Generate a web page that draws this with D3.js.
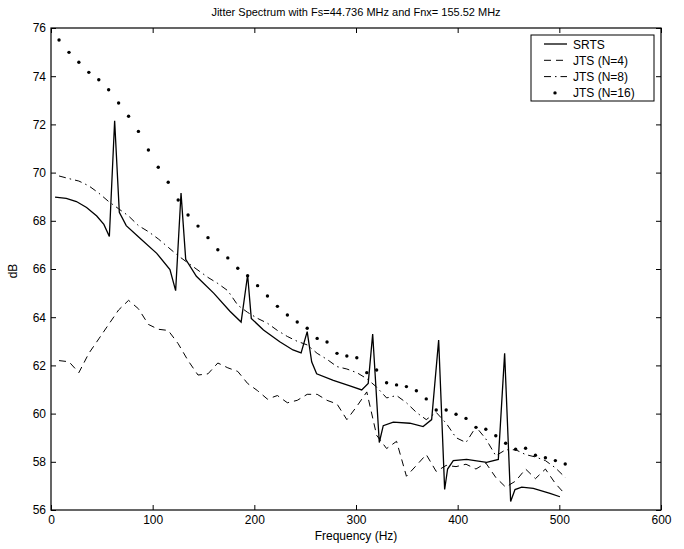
<!DOCTYPE html>
<html lang="en">
<head>
  <meta charset="UTF-8">
  <title>Jitter Spectrum</title>
  <style>
    body { margin: 0; background: #fff; }
    text { font-family: "Liberation Sans", Arial, sans-serif; fill: #000; }
    .axis path, .axis line { stroke: #000; }
  </style>
</head>
<body>
  <script src="https://d3js.org/d3.v7.min.js"></script>
  <script>
    // common frequency grid of the JTS curves (Hz)
    const jtsFreq = [7.9, 17.7, 27.4, 37.2, 47.0, 56.7, 66.5, 76.3, 86.0, 95.8,
      105.5, 115.3, 125.1, 134.8, 144.6, 154.4, 164.1, 173.9, 183.7, 193.4,
      203.2, 212.9, 222.7, 232.5, 242.2, 252.0, 261.8, 271.5, 281.3, 291.0,
      300.8, 310.6, 320.3, 330.1, 339.9, 349.6, 359.4, 369.1, 378.9, 388.7,
      398.4, 408.2, 418.0, 427.7, 437.5, 447.2, 457.0, 466.8, 476.5, 486.3,
      496.1, 505.8];

    const jts4 = [62.2, 62.15, 61.7, 62.5, 63.1, 63.7, 64.3, 64.7, 64.35, 63.7,
      63.5, 63.45, 62.9, 62.2, 61.6, 61.65, 62.1, 61.9, 61.75, 61.25,
      60.95, 60.6, 60.75, 60.45, 60.55, 60.8, 60.8, 60.55, 60.4, 59.75,
      60.3, 60.9, 59.1, 58.55, 58.85, 57.4, 57.85, 58.3, 57.6, 57.85,
      57.8, 57.9, 57.7, 57.95, 57.35, 56.95, 57.2, 57.7, 57.3, 57.7,
      57.1, 56.65];

    const jts8 = [69.86, 69.75, 69.65, 69.45, 69.15, 68.8, 68.5, 68.2, 67.8, 67.55,
      67.25, 66.9, 66.55, 66.25, 65.95, 65.65, 65.4, 65.1, 64.5, 64.2,
      63.95, 63.75, 63.45, 63.2, 63.0, 62.85, 62.5, 62.25, 61.95, 61.85,
      61.7, 61.45, 61.1, 60.65, 60.75, 60.45, 60.05, 59.75, 60.05, 59.6,
      59.0, 58.8, 59.45, 58.95, 58.25, 58.5, 58.5, 58.3, 58.2, 58.05,
      57.75, 57.35];

    const jts16 = [75.5, 74.99, 74.58, 74.16, 73.85, 73.44, 72.89, 72.34, 71.71, 70.94,
      70.22, 69.6, 68.86, 68.24, 67.78, 67.3, 66.8, 66.46, 66.03, 65.72,
      65.31, 64.88, 64.45, 64.09, 63.8, 63.54, 63.12, 62.97, 62.5, 62.39,
      62.32, 61.7, 61.81, 61.28, 61.19, 61.12, 60.95, 60.61, 60.15, 60.15,
      59.97, 59.8, 59.43, 59.35, 59.08, 58.77, 58.52, 58.56, 58.27, 58.17,
      58.05, 57.91];

    // SRTS curve
    const srtsFreq = [4, 15, 25, 35, 45, 52, 57.4, 62.6, 67.2, 74,
      87, 104, 117, 122.6, 127.9, 132.5, 143, 160, 176, 187,
      193.4, 197, 209, 225, 238, 246, 252, 256.4, 261.3, 277.7,
      294, 305.6, 312, 316.4, 322.9, 326.8, 336.7, 353, 366, 374.4,
      381.3, 387.2, 390.1, 395.7, 408.8, 428.5, 440, 446.2, 452.1, 456.4,
      463, 474.4, 490.8, 500.6];
    const srts = [68.98, 68.93, 68.8, 68.55, 68.2, 67.85, 67.35, 72.15, 68.35, 67.8,
      67.3, 66.65, 65.98, 65.1, 69.15, 66.4, 65.7, 65.0, 64.25, 63.8,
      65.75, 63.95, 63.47, 62.98, 62.64, 62.52, 63.4, 62.15, 61.65, 61.38,
      61.15, 60.98, 61.25, 63.3, 58.8, 59.5, 59.65, 59.6, 59.46, 59.75,
      63.05, 56.85, 57.7, 58.05, 58.1, 57.98, 58.1, 62.5, 56.35, 56.85,
      56.95, 56.9, 56.69, 56.55];

    const xTicks = [0, 100, 200, 300, 400, 500, 600];
    const yTicks = [56, 58, 60, 62, 64, 66, 68, 70, 72, 74, 76];
    const legendLabels = ["SRTS", "JTS (N=4)", "JTS (N=8)", "JTS (N=16)"];

    const width = 684, height = 549;
    const m = { left: 51, right: 661, top: 28, bottom: 510 };

    const svg = d3.select("body").append("svg")
      .attr("width", width).attr("height", height);

    const x = d3.scaleLinear().domain([0, 600]).range([m.left, m.right]);
    const y = d3.scaleLinear().domain([56, 76]).range([m.bottom, m.top]);

    // title
    svg.append("text")
      .attr("x", 356).attr("y", 16)
      .attr("text-anchor", "middle")
      .attr("font-size", "11px")
      .text("Jitter Spectrum with Fs=44.736 MHz and Fnx= 155.52 MHz");

    // axes, ticks inward on all sides
    const tickLen = 5;
    svg.append("g").attr("class", "axis")
      .attr("transform", `translate(0,${m.bottom})`)
      .call(d3.axisBottom(x).tickValues(xTicks).tickSizeInner(-tickLen).tickSizeOuter(0).tickPadding(5))
      .call(g => g.selectAll("text").attr("font-size", "12px"));
    svg.append("g").attr("class", "axis")
      .attr("transform", `translate(0,${m.top})`)
      .call(d3.axisTop(x).tickValues(xTicks).tickSizeInner(-tickLen).tickSizeOuter(0).tickFormat(""));
    svg.append("g").attr("class", "axis")
      .attr("transform", `translate(${m.left},0)`)
      .call(d3.axisLeft(y).tickValues(yTicks).tickSizeInner(-tickLen).tickSizeOuter(0).tickPadding(5))
      .call(g => g.selectAll("text").attr("font-size", "12px"));
    svg.append("g").attr("class", "axis")
      .attr("transform", `translate(${m.right},0)`)
      .call(d3.axisRight(y).tickValues(yTicks).tickSizeInner(-tickLen).tickSizeOuter(0).tickFormat(""));
    svg.selectAll(".axis path.domain").remove();

    svg.append("rect")
      .attr("x", m.left).attr("y", m.top)
      .attr("width", m.right - m.left).attr("height", m.bottom - m.top)
      .attr("fill", "none").attr("stroke", "#000").attr("stroke-width", 1.2);

    svg.append("text")
      .attr("x", 356).attr("y", 540)
      .attr("text-anchor", "middle").attr("font-size", "12px")
      .text("Frequency (Hz)");
    svg.append("text")
      .attr("transform", "translate(17,271) rotate(-90)")
      .attr("text-anchor", "middle").attr("font-size", "12px")
      .text("dB");

    const line = d3.line().x(d => x(d[0])).y(d => y(d[1]));
    const plot = svg.append("g");

    plot.append("path")
      .datum(jtsFreq.map((f, i) => [f, jts4[i]]))
      .attr("d", line).attr("fill", "none")
      .attr("stroke", "#000").attr("stroke-width", 1)
      .attr("stroke-dasharray", "7,5");

    plot.append("path")
      .datum(jtsFreq.map((f, i) => [f, jts8[i]]))
      .attr("d", line).attr("fill", "none")
      .attr("stroke", "#000").attr("stroke-width", 1)
      .attr("stroke-dasharray", "7,4,1.5,4");

    plot.append("path")
      .datum(srtsFreq.map((f, i) => [f, srts[i]]))
      .attr("d", line).attr("fill", "none")
      .attr("stroke", "#000").attr("stroke-width", 1.3);

    plot.selectAll("circle.dot")
      .data(jtsFreq.map((f, i) => [f, jts16[i]]))
      .enter().append("circle")
      .attr("class", "dot")
      .attr("cx", d => x(d[0])).attr("cy", d => y(d[1]))
      .attr("r", 1.7).attr("fill", "#000");

    // legend
    const lg = svg.append("g");
    lg.append("rect")
      .attr("x", 531).attr("y", 35).attr("width", 123).attr("height", 66)
      .attr("fill", "#fff").attr("stroke", "#000").attr("stroke-width", 1);
    const dashes = [null, "7,5", "7,4,1.5,4", null];
    legendLabels.forEach((lab, i) => {
      const ly = 44 + i * 16.3;
      if (i < 3) {
        lg.append("line")
          .attr("x1", 544).attr("x2", 567).attr("y1", ly).attr("y2", ly)
          .attr("stroke", "#000").attr("stroke-width", i === 0 ? 1.3 : 1)
          .attr("stroke-dasharray", dashes[i]);
      } else {
        lg.append("circle").attr("cx", 555).attr("cy", ly).attr("r", 1.7).attr("fill", "#000");
      }
      lg.append("text")
        .attr("x", 573).attr("y", ly + 4.5)
        .attr("font-size", "12px")
        .text(lab);
    });
  </script>
</body>
</html>
